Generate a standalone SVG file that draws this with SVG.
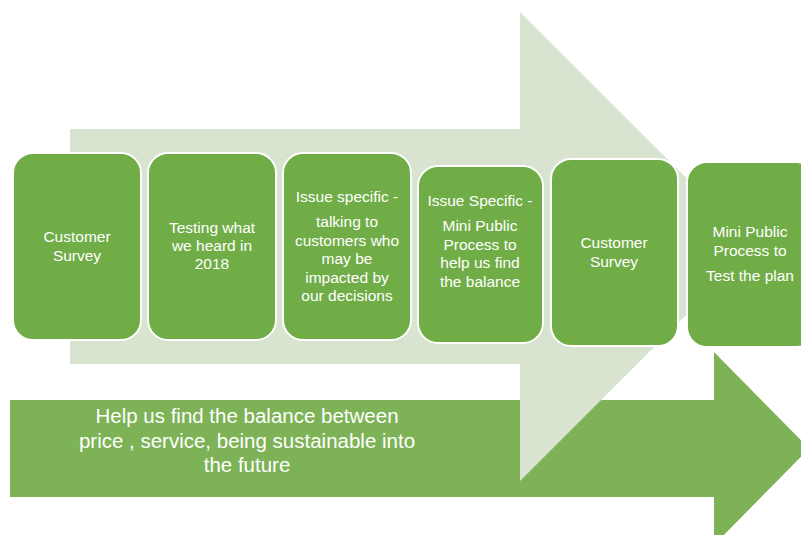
<svg xmlns="http://www.w3.org/2000/svg" width="801" height="535" viewBox="0 0 801 535">
<style>
.box{fill:#70AD47;stroke:#FFFFFF;stroke-width:2}
.t{font-family:"Liberation Sans",Arial,sans-serif;font-size:15.5px;fill:#FFFFFF;text-anchor:middle}
.b{font-family:"Liberation Sans",Arial,sans-serif;font-size:20.5px;fill:#FFFFFF;text-anchor:middle}
</style>
<rect width="801" height="535" fill="#FFFFFF"/>
<g id="bottom-arrow">
<polygon points="10,400 714,400 714,352 809,448.5 714,545 714,497 10,497" fill="#7DB356"/>
<text class="b" x="247" y="423">Help us find the balance between</text>
<text class="b" x="247" y="448">price , service, being sustainable into</text>
<text class="b" x="247" y="472">the future</text>
</g>
<g id="back-arrow">
<polygon points="70,129 520,129 520,12 755,246.5 520,481 520,364 70,364" fill="#D8E4D0"/>
</g>
<g id="box1">
<rect class="box" x="13" y="153" width="128" height="187" rx="20"/>
<text class="t" x="77" y="242">Customer</text>
<text class="t" x="77" y="261">Survey</text>
</g>
<g id="box2">
<rect class="box" x="148" y="153" width="128" height="187" rx="20"/>
<text class="t" x="212" y="233">Testing what</text>
<text class="t" x="212" y="251">we heard in</text>
<text class="t" x="212" y="269">2018</text>
</g>
<g id="box3">
<rect class="box" x="283" y="153" width="128" height="187" rx="20"/>
<text class="t" x="347" y="202">Issue specific -</text>
<text class="t" x="347" y="227">talking to</text>
<text class="t" x="347" y="246">customers who</text>
<text class="t" x="347" y="264">may be</text>
<text class="t" x="347" y="283">impacted by</text>
<text class="t" x="347" y="301">our decisions</text>
</g>
<g id="box4">
<rect class="box" x="418" y="166" width="125" height="177" rx="20"/>
<text class="t" x="480" y="206">Issue Specific -</text>
<text class="t" x="480" y="231">Mini Public</text>
<text class="t" x="480" y="250">Process to</text>
<text class="t" x="480" y="268">help us find</text>
<text class="t" x="480" y="287">the balance</text>
</g>
<g id="box5">
<rect class="box" x="551" y="159" width="127" height="187" rx="20"/>
<text class="t" x="614" y="248">Customer</text>
<text class="t" x="614" y="267">Survey</text>
</g>
<g id="box6">
<rect class="box" x="687" y="162" width="130" height="185" rx="20"/>
<text class="t" x="750" y="237">Mini Public</text>
<text class="t" x="750" y="256">Process to</text>
<text class="t" x="750" y="281">Test the plan</text>
</g>
<g id="connectors"></g>
</svg>
